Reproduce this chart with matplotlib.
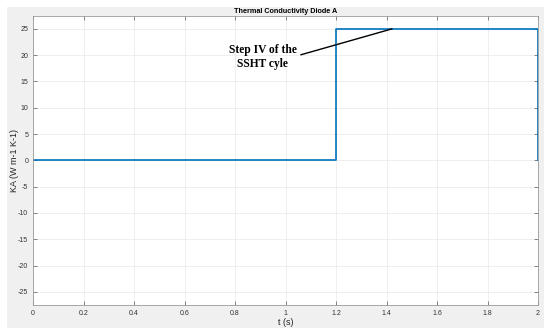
import matplotlib
matplotlib.use('Agg')
import matplotlib.pyplot as plt
from matplotlib.patches import Rectangle

# step signal of the diode conductivity
t = [0, 1.2, 1.2, 2.0, 2.0]
ka = [0, 0, 25, 25, 0]

xticks = [0, 0.2, 0.4, 0.6, 0.8, 1, 1.2, 1.4, 1.6, 1.8, 2]
yticks = [-25, -20, -15, -10, -5, 0, 5, 10, 15, 20, 25]

plt.rcParams['font.family'] = ['Liberation Sans', 'DejaVu Sans']
plt.rcParams['axes.unicode_minus'] = False

fig = plt.figure(figsize=(5.5, 3.34), dpi=100)
fig.patch.set_facecolor('white')
# gray matlab figure panel
fig.patches.append(Rectangle((7/550, 6/334), 537/550, 321/334, transform=fig.transFigure,
                             facecolor='#f0f0f0', edgecolor='none', zorder=-10))

ax = fig.add_axes([33/550, 1 - 305/334, 505/550, 289.3/334])
ax.set_zorder(1)
ax.set_facecolor('white')
ax.plot(t, ka, color='#0072BD', lw=1.2)

ax.set_xlim(0, 2)
ax.set_ylim(-27.5, 27.5)
ax.set_xticks(xticks)
ax.set_xticklabels([('%g' % v) for v in xticks])
ax.set_yticks(yticks)
ax.grid(True, color='#ececec', lw=0.6)
ax.tick_params(direction='in', top=True, right=True, labelsize=5, colors='#555555',
               length=3, width=0.5, labelcolor='#333333')
for s in ax.spines.values():
    s.set_color('#9a9a9a')
    s.set_linewidth(0.6)

ax.set_title('Thermal Conductivity Diode A', fontsize=5.2, fontweight='bold', pad=2)
ax.set_xlabel('t (s)', fontsize=6.5, labelpad=1, color='#222222')
ax.set_ylabel('KA (W m-1 K-1)', fontsize=6.5, labelpad=-1, color='#222222')

ax.annotate('Step IV of the\nSSHT cyle', xy=(1.422, 25), xytext=(0.91, 19.6),
            ha='center', va='center', fontsize=8.3, fontweight='bold',
            family=['Liberation Serif'], linespacing=1.2,
            arrowprops=dict(arrowstyle='-', color='black', lw=1.0,
                            relpos=(1, 0.55), shrinkA=1, shrinkB=0))

plt.savefig('out.png', dpi=100)
